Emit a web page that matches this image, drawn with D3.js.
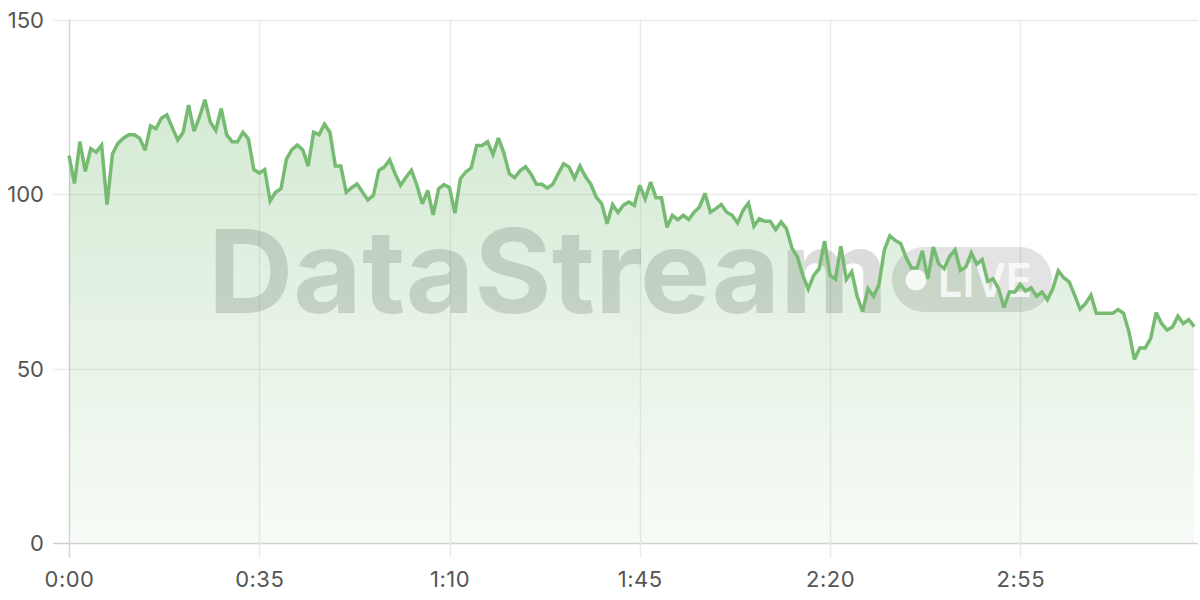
<!DOCTYPE html>
<html>
<head>
<meta charset="utf-8">
<script src="https://cdn.jsdelivr.net/npm/d3@7"></script>
<style>
  html, body { margin: 0; padding: 0; background: #ffffff; }
  svg { display: block; }
</style>
</head>
<body>
<svg id="chart" width="1200" height="600"></svg>
<script>
// Values, one per second starting at 0:00
const values = [
  111, 103, 115, 106.5, 113, 112, 114, 97, 111.5, 114.5,
  116, 117, 117, 116, 112.5, 119.5, 118.7, 121.7, 122.7, 119,
  115.5, 117.7, 125.5, 118, 122, 127, 120.6, 118.2, 124.5, 117,
  115, 115, 117.7, 115.8, 107, 106, 107, 98, 100.5, 101.5,
  110, 112.7, 114, 112.7, 108, 117.7, 117, 120, 117.7, 108,
  108, 100.5, 101.8, 102.9, 100.5, 98.3, 99.6, 106.8, 107.7, 109.8,
  105.8, 102.5, 104.8, 106.8, 102.5, 97.2, 101, 94, 101.5, 102.7,
  101.8, 94.5, 104.4, 106.3, 107.5, 113.9, 113.9, 115, 111.3, 116,
  111.8, 105.8, 104.7, 106.7, 107.8, 105.7, 102.8, 102.8, 101.7, 102.8,
  105.8, 108.7, 107.7, 104.5, 108, 105, 102.8, 99.1, 97.2, 91.5,
  97, 94.7, 96.8, 97.7, 96.7, 102.5, 98.6, 103.4, 98.9, 98.9,
  90.5, 93.9, 92.6, 93.9, 92.7, 94.8, 96.3, 100.2, 94.8, 95.8,
  97, 94.8, 93.9, 91.7, 95.3, 97.4, 90.8, 92.9, 92.2, 92.2,
  89.8, 92, 90, 84.5, 82, 76.7, 72.8, 76.7, 78.6, 86.5,
  76.7, 75.6, 85, 75.5, 77.7, 70.7, 66.3, 72.9, 70.7, 74,
  84, 88, 86.7, 85.8, 81.8, 78.8, 78.8, 83.7, 75.7, 84.8,
  80, 78.6, 82.1, 84, 78.1, 79.1, 83.1, 79.9, 81.2, 75,
  75.7, 72.9, 67.5, 71.9, 71.9, 74.1, 72.2, 73.1, 70.7, 71.9,
  69.7, 72.9, 78, 76, 74.8, 71, 67, 68.6, 71, 65.8,
  65.8, 65.8, 65.8, 66.9, 65.8, 60.5, 52.6, 55.9, 55.9, 58.6,
  66, 62.9, 61, 61.9, 65, 62.9, 64, 62
];
const seconds = values.map((v, i) => i);
const xTickSeconds = [0, 35, 70, 105, 140, 175];
const yTickValues = [0, 50, 100, 150];
const watermarkTitle = "DataStream";
const watermarkBadge = "LIVE";

const data = values.map((v, i) => ({ t: seconds[i], v }));

const svg = d3.select("#chart");
const plotLeft = 69, plotRight = 1198, plotTop = 19.5, plotBottom = 543;

const x = d3.scaleLinear().domain([0, 207.7]).range([plotLeft, plotRight]);
const y = d3.scaleLinear().domain([0, 150]).range([plotBottom, plotTop]);

const fmt = s => Math.floor(s / 60) + ":" + String(s % 60).padStart(2, "0");

// gradient
const defs = svg.append("defs");
const grad = defs.append("linearGradient")
  .attr("id", "areaGrad")
  .attr("gradientUnits", "userSpaceOnUse")
  .attr("x1", 0).attr("x2", 0)
  .attr("y1", y(128)).attr("y2", y(0));
grad.append("stop").attr("offset", "0%").attr("stop-color", "#78bc74").attr("stop-opacity", 0.32);
grad.append("stop").attr("offset", "100%").attr("stop-color", "#78bc74").attr("stop-opacity", 0.06);

// horizontal grid
svg.append("g")
  .selectAll("line")
  .data(yTickValues)
  .join("line")
  .attr("x1", plotLeft - 16).attr("x2", plotRight)
  .attr("y1", d => Math.round(y(d)) + 0.5).attr("y2", d => Math.round(y(d)) + 0.5)
  .attr("stroke", d => d === 0 ? "#d0d0d0" : "#ebebeb")
  .attr("stroke-width", 1.5);

// vertical grid
svg.append("g")
  .selectAll("line")
  .data(xTickSeconds)
  .join("line")
  .attr("x1", d => Math.round(x(d)) + 0.5).attr("x2", d => Math.round(x(d)) + 0.5)
  .attr("y1", plotTop).attr("y2", plotBottom + 15)
  .attr("stroke", d => d === 0 ? "#d6d6d6" : "#ebebeb")
  .attr("stroke-width", 1.5);

// area
const area = d3.area()
  .x(d => x(d.t))
  .y0(y(0))
  .y1(d => y(d.v));
svg.append("path")
  .datum(data)
  .attr("d", area)
  .attr("fill", "url(#areaGrad)");

// watermark
const wm = svg.append("g").attr("pointer-events", "none");
wm.append("text")
  .attr("x", 208).attr("y", 313)
  .attr("font-family", "Inter, 'Noto Sans', sans-serif")
  .attr("font-weight", 700)
  .attr("font-size", 116)
  .attr("textLength", 680)
  .attr("lengthAdjust", "spacingAndGlyphs")
  .attr("fill", "#1f2a1f")
  .attr("fill-opacity", 0.16)
  .text(watermarkTitle);
wm.append("rect")
  .attr("x", 892).attr("y", 247)
  .attr("width", 160).attr("height", 65)
  .attr("rx", 32.5)
  .attr("fill", "#1f2a1f")
  .attr("fill-opacity", 0.13);
wm.append("circle")
  .attr("cx", 916).attr("cy", 280).attr("r", 10.5)
  .attr("fill", "#ffffff").attr("fill-opacity", 0.85);
wm.append("text")
  .attr("x", 938).attr("y", 297)
  .attr("font-family", "Inter, 'Noto Sans', sans-serif")
  .attr("font-weight", 600)
  .attr("font-size", 47)
  .attr("textLength", 94)
  .attr("lengthAdjust", "spacingAndGlyphs")
  .attr("fill", "#ffffff")
  .attr("fill-opacity", 0.8)
  .text(watermarkBadge);

// line
const line = d3.line()
  .x(d => x(d.t))
  .y(d => y(d.v));
svg.append("path")
  .datum(data)
  .attr("d", line)
  .attr("fill", "none")
  .attr("stroke", "#77bb73")
  .attr("stroke-width", 3.5)
  .attr("stroke-linejoin", "miter")
  .attr("stroke-miterlimit", 3);

// y axis labels
const yAxis = d3.axisLeft(y).tickValues(yTickValues).tickSize(0).tickPadding(0);
const gy = svg.append("g").attr("transform", `translate(${plotLeft - 25},0)`).call(yAxis);
gy.select(".domain").remove();
gy.selectAll("text")
  .attr("font-family", "Inter, 'Noto Sans', sans-serif")
  .attr("font-size", 22)
  .attr("fill", "#555555")
  .attr("dy", "0.36em");

// x axis labels
const xAxis = d3.axisBottom(x).tickValues(xTickSeconds).tickFormat(fmt).tickSize(0).tickPadding(0);
const gx = svg.append("g").attr("transform", `translate(0,${plotBottom + 28})`).call(xAxis);
gx.select(".domain").remove();
gx.selectAll("text")
  .attr("font-family", "Inter, 'Noto Sans', sans-serif")
  .attr("font-size", 22)
  .attr("letter-spacing", "0.5px")
  .attr("fill", "#555555")
  .attr("dy", "0.71em");
</script>
</body>
</html>
